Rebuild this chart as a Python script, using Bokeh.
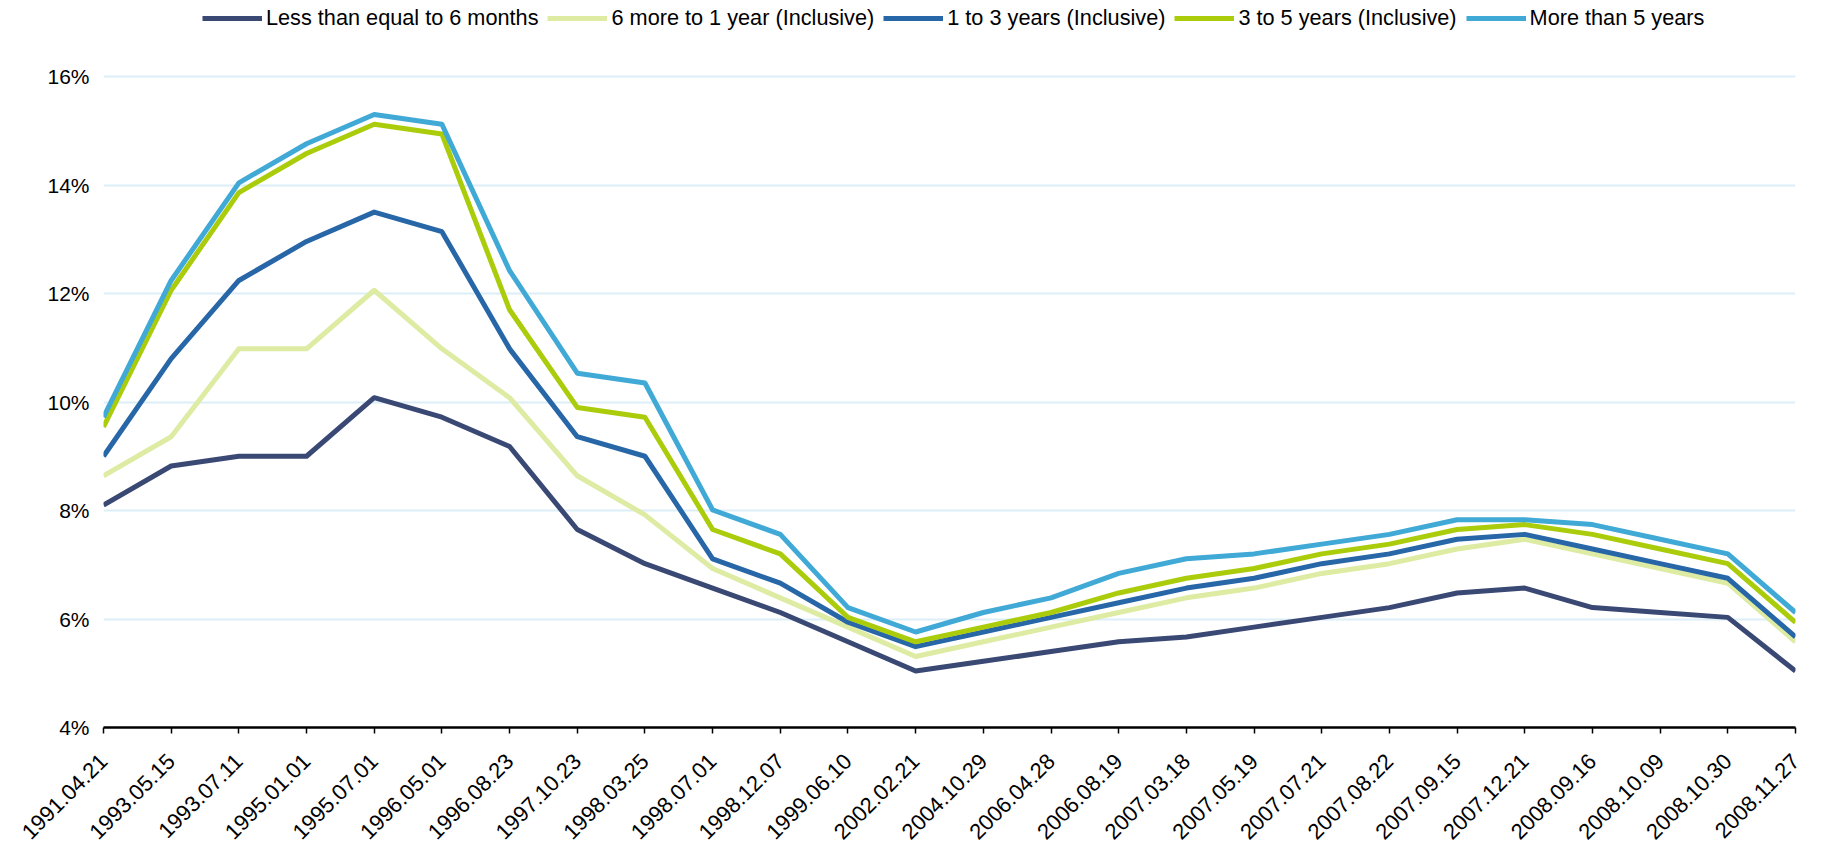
import math
from bokeh.plotting import figure
from bokeh.models import (Legend, LegendItem, FixedTicker, PrintfTickFormatter,
                          Range1d, ColumnDataSource)
from bokeh.embed import file_html
from bokeh.resources import INLINE

categories = ["1991.04.21", "1993.05.15", "1993.07.11", "1995.01.01", "1995.07.01",
              "1996.05.01", "1996.08.23", "1997.10.23", "1998.03.25", "1998.07.01",
              "1998.12.07", "1999.06.10", "2002.02.21", "2004.10.29", "2006.04.28",
              "2006.08.19", "2007.03.18", "2007.05.19", "2007.07.21", "2007.08.22",
              "2007.09.15", "2007.12.21", "2008.09.16", "2008.10.09", "2008.10.30",
              "2008.11.27"]

le_6_months = [8.10, 8.82, 9.00, 9.00, 10.08, 9.72, 9.18, 7.65, 7.02, 6.57, 6.12, 5.58, 5.04,
               5.22, 5.40, 5.58, 5.67, 5.85, 6.03, 6.21, 6.48, 6.57, 6.21, 6.12, 6.03, 5.04]
m6_to_1y = [8.64, 9.36, 10.98, 10.98, 12.06, 10.98, 10.08, 8.64, 7.92, 6.93, 6.39, 5.85, 5.31,
            5.58, 5.85, 6.12, 6.39, 6.57, 6.84, 7.02, 7.29, 7.47, 7.20, 6.93, 6.66, 5.58]
y1_to_3 = [9.00, 10.80, 12.24, 12.96, 13.50, 13.14, 10.98, 9.36, 9.00, 7.11, 6.66, 5.94, 5.49,
           5.76, 6.03, 6.30, 6.57, 6.75, 7.02, 7.20, 7.47, 7.56, 7.29, 7.02, 6.75, 5.67]
y3_to_5 = [9.54, 12.06, 13.86, 14.58, 15.12, 14.94, 11.70, 9.90, 9.72, 7.65, 7.20, 6.03, 5.58,
           5.85, 6.12, 6.48, 6.75, 6.93, 7.20, 7.38, 7.65, 7.74, 7.56, 7.29, 7.02, 5.94]
over_5y = [9.72, 12.24, 14.04, 14.76, 15.30, 15.12, 12.42, 10.53, 10.35, 8.01, 7.56, 6.21, 5.76,
           6.12, 6.39, 6.84, 7.11, 7.20, 7.38, 7.56, 7.83, 7.83, 7.74, 7.47, 7.20, 6.12]

series_names = ["Less than equal to 6 months", "6 more to 1 year (Inclusive)",
                "1 to 3 years (Inclusive)", "3 to 5 years (Inclusive)", "More than 5 years"]
series_values = [le_6_months, m6_to_1y, y1_to_3, y3_to_5, over_5y]
series_colors = ["#3A4874", "#DDEBA3", "#2766A7", "#AACC0B", "#40A9D6"]

y_ticks = [4, 6, 8, 10, 12, 14, 16]

FONT = "Liberation Sans"

# frame runs to the top of the figure; the legend sits in the blank band above 16%
FRAME_H = 727
Y_TOP = 4 + 12 * FRAME_H / 651

p = figure(frame_width=1692, frame_height=FRAME_H, output_backend="svg",
           toolbar_location=None,
           x_range=Range1d(0, len(categories) - 1), y_range=Range1d(4, Y_TOP),
           min_border_left=103, min_border_right=12, min_border_top=0,
           min_border_bottom=100)
p.outline_line_color = None
p.background_fill_color = "white"
p.border_fill_color = "white"

p.xgrid.visible = False
p.ygrid.grid_line_color = "#DCEFF8"
p.ygrid.grid_line_width = 2
p.ygrid.ticker = FixedTicker(ticks=y_ticks)

xa = p.xaxis[0]
xa.ticker = FixedTicker(ticks=list(range(len(categories))))
xa.major_label_overrides = {i: c for i, c in enumerate(categories)}
xa.major_label_orientation = math.pi / 4
xa.axis_line_color = "black"
xa.axis_line_width = 2.5
xa.major_tick_line_color = "black"
xa.major_tick_line_width = 1.5
xa.major_tick_out = 6
xa.major_tick_in = 0
xa.minor_tick_line_color = None
xa.major_label_text_font = FONT
xa.major_label_text_font_size = "22px"
xa.major_label_text_color = "black"
xa.major_label_standoff = 24

ya = p.yaxis[0]
ya.ticker = FixedTicker(ticks=y_ticks)
ya.formatter = PrintfTickFormatter(format="%d%%")
ya.axis_line_color = None
ya.major_tick_line_color = None
ya.minor_tick_line_color = None
ya.major_tick_out = 0
ya.major_tick_in = 0
ya.major_label_text_font = FONT
ya.major_label_text_font_size = "21px"
ya.major_label_text_color = "black"
ya.major_label_standoff = 14

source = ColumnDataSource(data=dict(
    x=list(range(len(categories))),
    s0=le_6_months, s1=m6_to_1y, s2=y1_to_3, s3=y3_to_5, s4=over_5y))

items = []
for i, (name, color) in enumerate(zip(series_names, series_colors)):
    r = p.line(x="x", y=f"s{i}", source=source, line_width=5, line_color=color,
               line_join="round")
    items.append(LegendItem(label=name, renderers=[r]))

legend = Legend(items=items, orientation="horizontal", location=(99, FRAME_H - 31),
                border_line_color=None, background_fill_alpha=0,
                glyph_width=60, glyph_height=20, label_standoff=4, spacing=9,
                padding=0, margin=0, label_text_font=FONT,
                label_text_font_size="21.7px", label_text_color="black")
p.add_layout(legend, "center")

open("out.html", "w").write(file_html(p, INLINE))
